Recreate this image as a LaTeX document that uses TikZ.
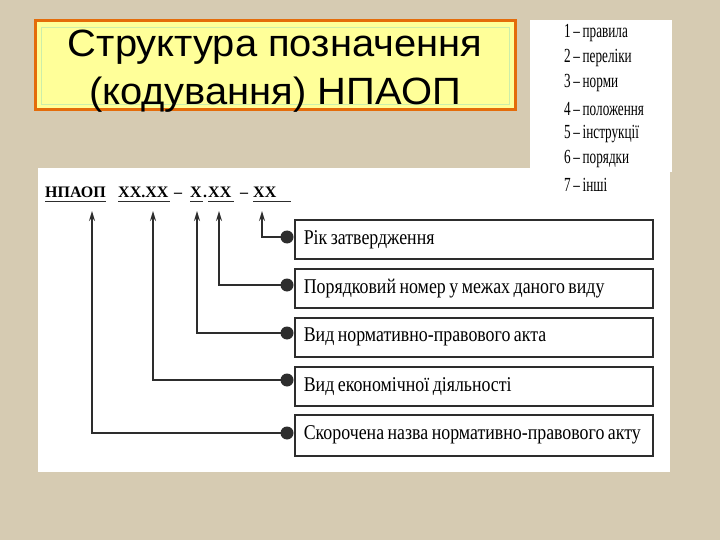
\documentclass[tikz,border=0pt]{standalone}
\usepackage{fontspec}
\setmainfont{Liberation Serif}
\newfontfamily\titlefont[FakeStretch=1.05]{Liberation Sans}
\newfontfamily\boxfont[FakeStretch=0.85]{Liberation Serif}
\newfontfamily\legfont[FakeStretch=0.66,WordSpace=0.8]{Liberation Serif}
\newcommand\boxlabel[1]{\spaceskip=3.5pt plus 1pt\relax\hspace*{9pt}#1}
\usetikzlibrary{arrows.meta}
\definecolor{bgbeige}{RGB}{214,203,178}
\definecolor{titlefill}{RGB}{255,255,153}
\definecolor{titleborder}{RGB}{228,108,10}
\definecolor{titleinner}{RGB}{204,238,170}
\definecolor{inkgray}{RGB}{45,45,45}
\tikzset{
  descbox/.style={draw=inkgray, line width=1.6pt, fill=white, anchor=north west,
    minimum width=358pt, minimum height=39pt, inner sep=0pt,
    text width=358pt, align=left,
    font=\boxfont\fontsize{21}{23}\selectfont},
  dotnode/.style={circle, fill=inkgray, minimum size=13pt, inner sep=0pt},
  codepart/.style={anchor=base west, inner sep=0pt, font=\bfseries\fontsize{16}{18}\selectfont},
  legitem/.style={anchor=west, inner sep=0pt, font=\legfont\fontsize{20}{22}\selectfont},
  titleline/.style={anchor=base, inner sep=0pt, font=\titlefont\fontsize{38}{44}\selectfont},
  conn/.style={draw=inkgray, line width=1.5pt, -{Stealth[length=10pt,width=6pt]}},
  uline/.style={draw=inkgray, line width=1.6pt}
}
\begin{document}
\begin{tikzpicture}[x=1pt,y=-1pt]
\useasboundingbox (0,0) rectangle (720,540);
\fill[bgbeige] (0,0) rectangle (720,540);
% white panels
\fill[white] (530,20) rectangle (672,172);
\fill[white] (38,168) rectangle (670,472);
% title
\draw[titleborder, line width=3pt, fill=titlefill] (35,21) rectangle (515,110);
\draw[titleinner, line width=0.8pt] (41,27) rectangle (509,104);
\node[titleline] (title1) at (275,57) {Структура позначення};
\node[titleline] (title2) at (275,105) {(кодування) НПАОП};
% legend
\node[legitem] (l1) at (564,33) {1 – правила};
\node[legitem] (l2) at (564,58) {2 – переліки};
\node[legitem] (l3) at (564,83) {3 – норми};
\node[legitem] (l4) at (564,109) {4 – положення};
\node[legitem] (l5) at (564,134) {5 – інструкції};
\node[legitem] (l6) at (564,159) {6 – порядки};
\node[legitem] (l7) at (564,185) {7 – інші};
% code line
\node[codepart] (cA) at (45,198) {НПАОП};
\node[codepart] (cB) at (118,198) {XX.XX};
\node[codepart] (dash1) at (174,198) {–};
\node[codepart] (cC) at (190,198) {X};
\node[codepart] (dot) at (203,198) {.};
\node[codepart] (cD) at (208,198) {XX};
\node[codepart] (dash2) at (240,198) {–};
\node[codepart] (cE) at (253,198) {XX};
\draw[uline] (45,201.5) -- (106,201.5);
\draw[uline] (118,201.5) -- (170,201.5);
\draw[uline] (190,201.5) -- (203,201.5);
\draw[uline] (208,201.5) -- (234,201.5);
\draw[uline] (253,201.5) -- (291,201.5);
% arrow tips
\coordinate (tA) at (92,211);
\coordinate (tB) at (153,211);
\coordinate (tC) at (197,211);
\coordinate (tD) at (219,211);
\coordinate (tE) at (262,211);
% boxes
\node[descbox] (b1) at (294,219) {\boxlabel{Рік затвердження}};
\node[descbox] (b2) at (294,268) {\boxlabel{Порядковий номер у межах даного виду}};
\node[descbox] (b3) at (294,317) {\boxlabel{Вид нормативно-правового акта}};
\node[descbox] (b4) at (294,366) {\boxlabel{Вид економічної діяльності}};
\node[descbox, minimum height=41pt] (b5) at (294,414) {\boxlabel{Скорочена назва нормативно-правового акту}};
% dots
\node[dotnode] (d1) at (287,237) {};
\node[dotnode] (d2) at (287,285) {};
\node[dotnode] (d3) at (287,333) {};
\node[dotnode] (d4) at (287,380) {};
\node[dotnode] (d5) at (287,433) {};
% connectors
\draw[conn] (d1.center) -| (tE);
\draw[conn] (d2.center) -| (tD);
\draw[conn] (d3.center) -| (tC);
\draw[conn] (d4.center) -| (tB);
\draw[conn] (d5.center) -| (tA);
\end{tikzpicture}
\end{document}
